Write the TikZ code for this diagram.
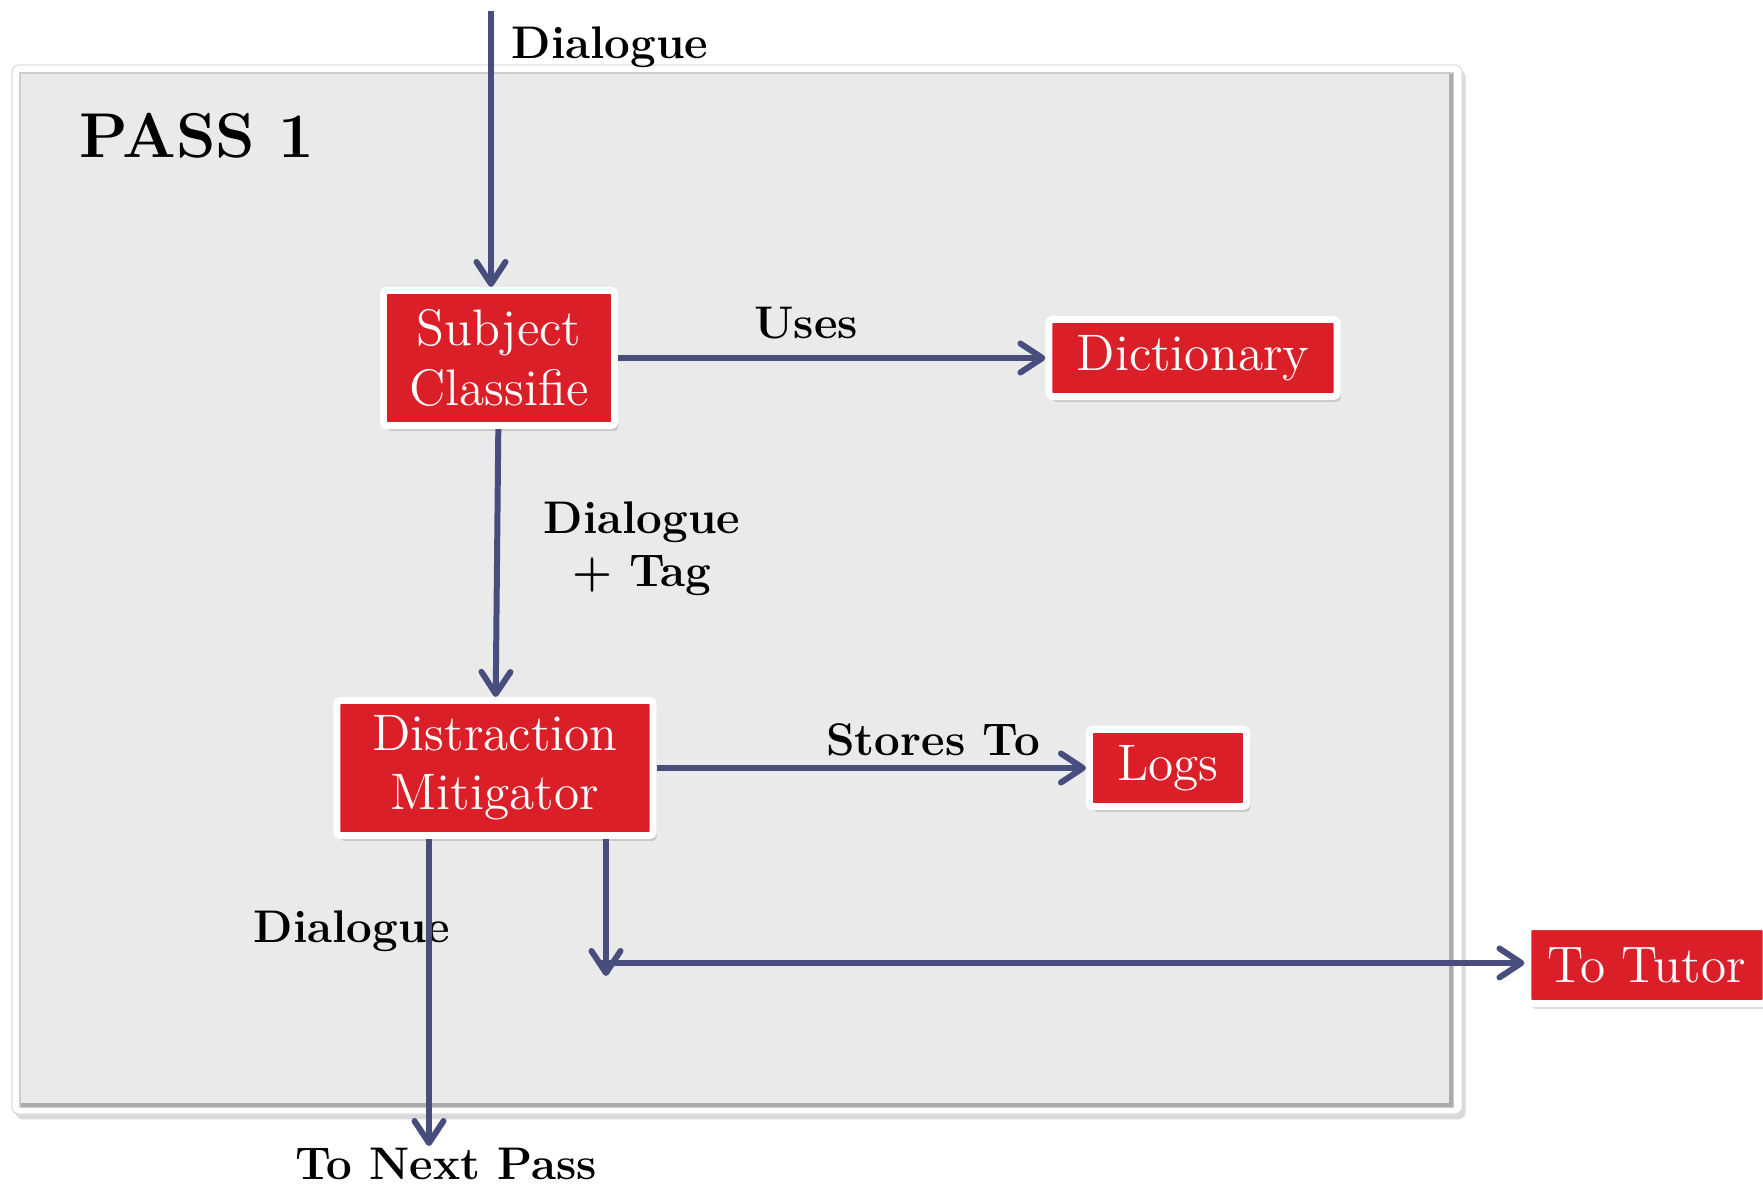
\documentclass[tikz,border=0pt]{standalone}
\usepackage{tikz}
\usetikzlibrary{
	arrows.meta,
	positioning,
	shadows
}
\definecolor{boxred}{HTML}{DA1F28}
\definecolor{flowblue}{HTML}{474D7D}
\definecolor{panelgray}{HTML}{EAEAEA}

\begin{document}
\begin{tikzpicture}[
			x=0.01cm, y=-0.01cm,
			>={Straight Barb[round, length=2.2mm, width=2.9mm]},
			box/.style={draw=white, line width=2pt, fill=boxred, text=white, rounded corners=1pt, align=center, inner sep=0pt, font=\fontsize{14.6}{16.8}\selectfont, drop shadow={shadow xshift=1pt, shadow yshift=-1.5pt, opacity=0.3}},
			lbl/.style={font=\fontsize{13}{15}\selectfont\bfseries, align=center, inner sep=0pt},
			flow/.style={->, draw=flowblue, line width=1.7pt}
		]
		\useasboundingbox (0,0) rectangle (1763,1188);

		% panel
		\fill[white, rounded corners=2pt, drop shadow={shadow xshift=1pt, shadow yshift=-1.5pt, opacity=0.3}] (12,65) rectangle (1462,1114);
		\draw[gray!25, line width=0.4pt, rounded corners=2pt] (12,65) rectangle (1462,1114);
		\fill[panelgray] (20,73) rectangle (1453,1107);
		\draw[gray!40, line width=0.5pt] (20,73) rectangle (1453,1107);
		\draw[gray!65, line width=1.2pt] (21,1105) -- (1451,1105) -- (1451,74);
		\node[font=\fontsize{18}{20}\selectfont\bfseries, inner sep=0pt] (pass) at (197,136) {PASS 1};

		% blocos
		\node[box, minimum width=2.31cm, minimum height=1.35cm] (subj) at (499,358) {Subject\\Classifie};
		\node[box, minimum width=2.88cm, minimum height=0.77cm] (dict) at (1193,358) {Dictionary};
		\node[box, minimum width=3.16cm, minimum height=1.35cm] (mitig) at (495,768) {Distraction\\Mitigator};
		\node[box, minimum width=1.57cm, minimum height=0.77cm] (logs) at (1168,768) {Logs};
		\node[box, minimum width=2.38cm, minimum height=0.77cm] (tutor) at (1647,965) {To Tutor};

		% rotulos
		\node[lbl] (dlgin) at (610,47) {Dialogue};
		\node[lbl] (uses) at (806,323) {Uses};
		\node[lbl] (dlgtag) at (642,549) {Dialogue\\+ Tag};
		\node[lbl] (stores) at (933,740) {Stores To};
		\node[lbl] (dlgout) at (352,931) {Dialogue};
		\node[lbl] (nextlbl) at (446,1164) {To Next Pass};

		\coordinate (src) at (491,11);
		\coordinate (next) at (429,1146);
		\coordinate (turn) at (606,976);
		\coordinate (split) at (600,963);

		% conexoes
		\draw[flow] (src) -- (src |- subj.north);
		\draw[flow] (subj) -- (dict);
		\draw[flow] (subj) -- (mitig);
		\draw[flow] (mitig) -- (logs);
		\draw[flow] (mitig.south -| next) -- (next);
		\draw[flow] (mitig.south -| turn) -- (turn);
		\draw[flow] (split) -- (split -| tutor.west);
	\end{tikzpicture}
\end{document}
